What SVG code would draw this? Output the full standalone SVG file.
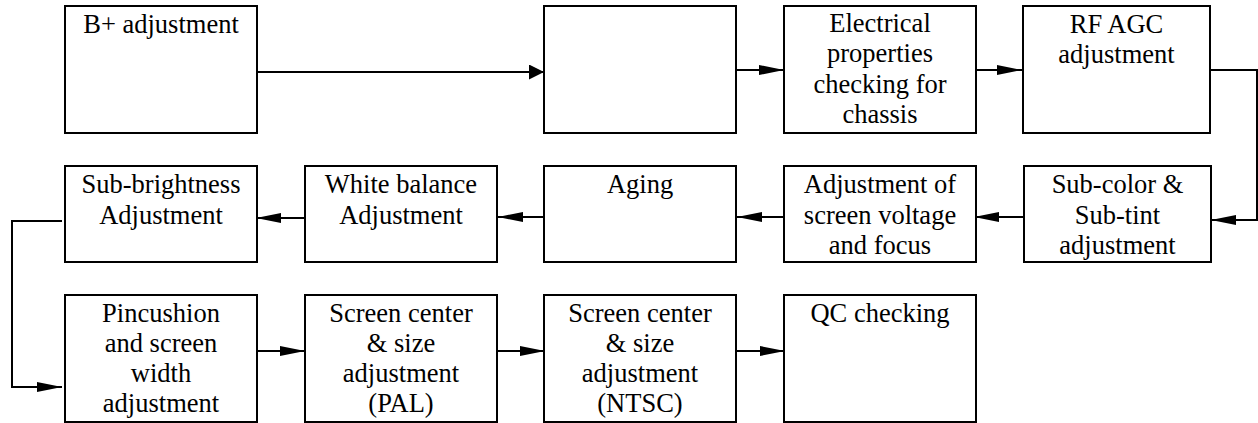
<svg xmlns="http://www.w3.org/2000/svg" width="1258" height="423" viewBox="0 0 1258 423">
<style>
.box{fill:#fff;stroke:#000;stroke-width:2}
.t{font-size:26.5px;fill:#000;text-anchor:middle}
.c{fill:none;stroke:#000;stroke-width:2}
</style>
<defs>
<marker id="ah" markerUnits="userSpaceOnUse" markerWidth="25" markerHeight="11" refX="25" refY="5.5" orient="auto">
<path d="M0,0.5 L25,5.5 L0,10.5 z" fill="#000"/>
</marker>
<marker id="ah1" markerUnits="userSpaceOnUse" markerWidth="15" markerHeight="15" refX="15" refY="7.5" orient="auto">
<path d="M0,0 L15,7.5 L0,15 z" fill="#000"/>
</marker>
</defs>
<rect width="1258" height="423" fill="#fff"/>
<g id="connectors">
<path class="c" d="M257,72 H544" marker-end="url(#ah1)"/>
<path class="c" d="M736,70 H784" marker-end="url(#ah)"/>
<path class="c" d="M971,70 H1022" marker-end="url(#ah)"/>
<path class="c" d="M1208,70 H1257 V220 H1211" marker-end="url(#ah)"/>
<path class="c" d="M1024,217 H974" marker-end="url(#ah)"/>
<path class="c" d="M787,217 H737" marker-end="url(#ah)"/>
<path class="c" d="M549,217 H498" marker-end="url(#ah)"/>
<path class="c" d="M305,218 H256" marker-end="url(#ah)"/>
<path class="c" d="M62,221 H12 V387 H62" marker-end="url(#ah)"/>
<path class="c" d="M257,351 H305" marker-end="url(#ah)"/>
<path class="c" d="M497,351 H545" marker-end="url(#ah)"/>
<path class="c" d="M736,351 H785" marker-end="url(#ah)"/>
</g>
<g font-family="Liberation Serif, Times New Roman, serif">
<g id="n1"><rect class="box" x="65" y="6" width="192" height="127"/><text class="t" x="161" y="33">B+ adjustment</text></g>
<g id="n2"><rect class="box" x="544" y="6" width="192" height="127"/></g>
<g id="n3"><rect class="box" x="784" y="6" width="192" height="127"/>
<text class="t" x="880" y="32">Electrical</text><text class="t" x="880" y="62">properties</text><text class="t" x="880" y="93">checking for</text><text class="t" x="880" y="123">chassis</text></g>
<g id="n4"><rect class="box" x="1023" y="6" width="187" height="127"/>
<text class="t" x="1116.5" y="33">RF AGC</text><text class="t" x="1116.5" y="63">adjustment</text></g>
<g id="n5"><rect class="box" x="1024" y="166" width="187" height="96"/>
<text class="t" x="1117.5" y="193">Sub-color &amp;</text><text class="t" x="1117.5" y="224">Sub-tint</text><text class="t" x="1117.5" y="254">adjustment</text></g>
<g id="n6"><rect class="box" x="784" y="166" width="192" height="96"/>
<text class="t" x="880" y="193">Adjustment of</text><text class="t" x="880" y="224">screen voltage</text><text class="t" x="880" y="254">and focus</text></g>
<g id="n7"><rect class="box" x="544" y="166" width="192" height="96"/>
<text class="t" x="640" y="193">Aging</text></g>
<g id="n8"><rect class="box" x="305" y="166" width="192" height="96"/>
<text class="t" x="401" y="193">White balance</text><text class="t" x="401" y="224">Adjustment</text></g>
<g id="n9"><rect class="box" x="65" y="166" width="192" height="96"/>
<text class="t" x="161" y="193">Sub-brightness</text><text class="t" x="161" y="224">Adjustment</text></g>
<g id="n10"><rect class="box" x="65" y="295" width="192" height="127"/>
<text class="t" x="161" y="322">Pincushion</text><text class="t" x="161" y="352">and screen</text><text class="t" x="161" y="382">width</text><text class="t" x="161" y="412">adjustment</text></g>
<g id="n11"><rect class="box" x="305" y="295" width="192" height="127"/>
<text class="t" x="401" y="322">Screen center</text><text class="t" x="401" y="352">&amp; size</text><text class="t" x="401" y="382">adjustment</text><text class="t" x="401" y="412">(PAL)</text></g>
<g id="n12"><rect class="box" x="544" y="295" width="192" height="127"/>
<text class="t" x="640" y="322">Screen center</text><text class="t" x="640" y="352">&amp; size</text><text class="t" x="640" y="382">adjustment</text><text class="t" x="640" y="412">(NTSC)</text></g>
<g id="n13"><rect class="box" x="784" y="295" width="192" height="127"/>
<text class="t" x="880" y="322">QC checking</text></g>
</g>
</svg>
